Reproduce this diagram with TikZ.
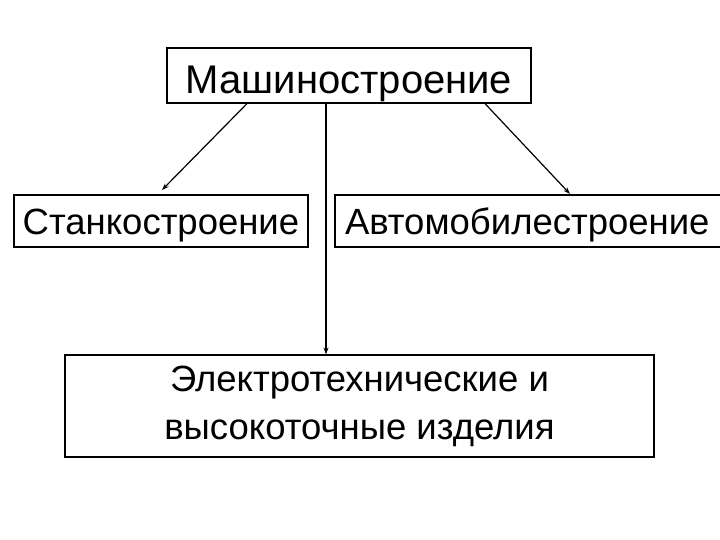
\documentclass[tikz,border=0pt]{standalone}
\usepackage{fontspec}
\setmainfont{Liberation Sans}
\usetikzlibrary{arrows.meta}
\begin{document}
\begin{tikzpicture}[x=1pt,y=-1pt,
  box/.style={draw=black,line width=1.2pt,inner sep=0pt,font=\fontsize{36.5}{48}\selectfont},
  conn/.style={line width=1.2pt,-{Stealth[length=7pt,width=5pt]}}]
\useasboundingbox (0,0) rectangle (720,540);
\clip (0,0) rectangle (720,540);
\node[box,minimum width=364pt,minimum height=55pt,text height=37pt,text depth=0pt,font=\fontsize{40}{49}\selectfont] (top) at (349,75.5) {Машиностроение};
\node[box,minimum width=294pt,minimum height=52pt,text height=28pt,text depth=0pt] (left) at (161,221) {Станкостроение};
\node[box,minimum width=395pt,minimum height=52pt,text height=28pt,text depth=0pt,text width=375pt,align=left] (right) at (532.5,221) {Автомобилестроение};
\node[box,minimum width=589pt,minimum height=102pt,align=center,yshift=0pt] (bottom) at (359.5,406) {\raisebox{-3pt}{Электротехнические и}\\\raisebox{-3pt}{высокоточные изделия}};
\coordinate (lend) at (162,190);
\coordinate (rend) at (570,194);
\draw[conn] (top.south -| 247,0) -- (lend);
\draw[conn] (top.south -| 485,0) -- (rend);
\draw[conn] (top.south -| 326,0) -- (bottom.north -| 326,0);
\end{tikzpicture}
\end{document}
